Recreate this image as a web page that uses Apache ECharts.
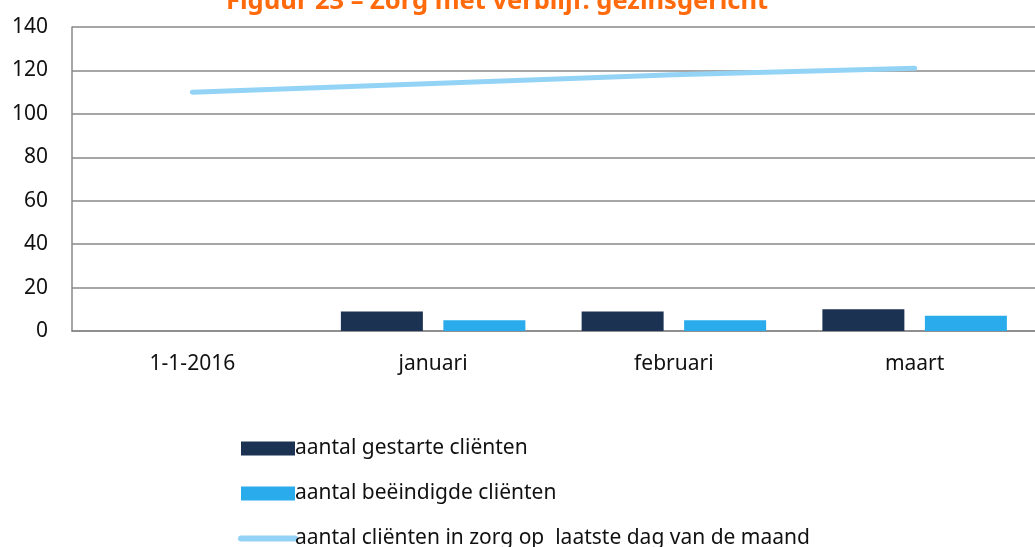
<!DOCTYPE html>
<html>
<head>
<meta charset="utf-8">
<script src="https://cdn.jsdelivr.net/npm/echarts@6/dist/echarts.min.js"></script>
<style>
  html, body { margin: 0; padding: 0; background: #fff; }
  #chart { width: 1035px; height: 547px; }
</style>
</head>
<body>
<div id="chart"></div>
<script>
var categories = ['1-1-2016', 'januari', 'februari', 'maart'];
var gestart = [null, 9, 9, 10];
var beeindigd = [null, 5, 5, 7];
var inZorg = [110, 114, 118, 121];
var yTicks = [0, 20, 40, 60, 80, 100, 120, 140];

var font = '"Noto Sans", "Open Sans", sans-serif';
var chart = echarts.init(document.getElementById('chart'));

var option = {
    animation: false,
    textStyle: { fontFamily: font },
    title: {
        text: 'Figuur 23 \u2013 Zorg met verblijf: gezinsgericht',
        left: 221,
        top: -16,
        textStyle: { color: '#FF6A0D', fontSize: 25.5, fontWeight: 'bold', fontFamily: font }
    },
    grid: { left: 72, right: -12, top: 27, bottom: 216 },
    legend: {
        orient: 'vertical',
        left: 233,
        top: 433,
        height: 150,
        itemWidth: 54,
        itemHeight: 14,
        itemGap: 24,
        textStyle: { fontSize: 21, color: '#111', fontFamily: font, padding: [0, 0, 0, -5] },
        data: [
            { name: 'aantal gestarte cliënten', icon: 'rect' },
            { name: 'aantal beëindigde cliënten', icon: 'rect' },
            { name: 'aantal cliënten in zorg op  laatste dag van de maand',
              itemStyle: { color: 'rgba(0,0,0,0)', borderWidth: 0 },
              lineStyle: { width: 6, cap: 'round', color: '#93D4F6' } }
        ]
    },
    xAxis: {
        type: 'category',
        data: categories,
        axisLine: { lineStyle: { color: '#888', width: 1.5 } },
        axisTick: { show: false },
        axisLabel: { fontSize: 21, color: '#111', margin: 23, fontFamily: font }
    },
    yAxis: {
        type: 'value',
        min: yTicks[0],
        max: yTicks[yTicks.length - 1],
        interval: 20,
        axisLine: { show: true, lineStyle: { color: '#888', width: 1.5 } },
        axisTick: { show: false },
        axisLabel: { fontSize: 21, color: '#111', margin: 24, fontFamily: font },
        splitLine: { lineStyle: { color: '#888', width: 1.5 } }
    },
    series: [
        {
            name: 'aantal gestarte cliënten',
            type: 'bar',
            data: gestart,
            barWidth: 82,
            barGap: '25%',
            itemStyle: { color: '#1B3252' }
        },
        {
            name: 'aantal beëindigde cliënten',
            type: 'bar',
            data: beeindigd,
            barWidth: 82,
            itemStyle: { color: '#2AACEC' }
        },
        {
            name: 'aantal cliënten in zorg op  laatste dag van de maand',
            type: 'line',
            data: inZorg,
            symbol: 'none',
            lineStyle: { color: '#93D4F6', width: 5, cap: 'round' },
            itemStyle: { color: '#93D4F6' }
        }
    ]
};
chart.setOption(option);
</script>
</body>
</html>
